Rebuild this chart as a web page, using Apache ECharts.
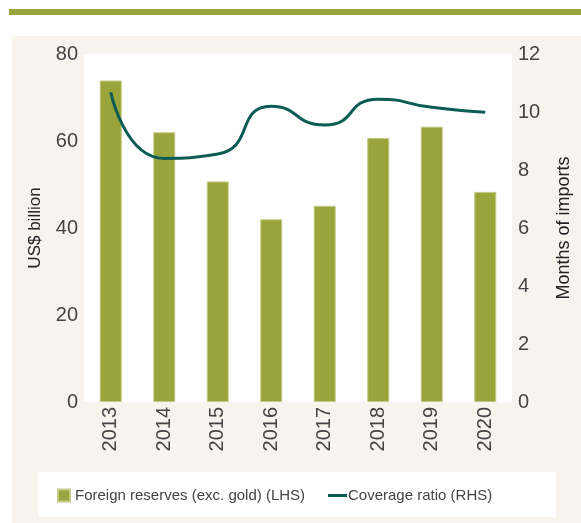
<!DOCTYPE html>
<html>
<head>
<meta charset="utf-8">
<script src="https://cdn.jsdelivr.net/npm/echarts@6/dist/echarts.min.js"></script>
<style>
  html, body { margin: 0; padding: 0; background: #fff; }
  #main { width: 581px; height: 523px; }
</style>
</head>
<body>
<div id="main"></div>
<script>
// data
const years = ['2013', '2014', '2015', '2016', '2017', '2018', '2019', '2020'];
const reserves = [73.9, 62.0, 50.7, 42.0, 45.1, 60.7, 63.3, 48.3];   // US$ billion (LHS)
const coverage = [10.68, 8.4, 8.55, 10.2, 9.55, 10.44, 10.16, 9.99]; // months of imports (RHS)
const leftTicks = [0, 20, 40, 60, 80];
const rightTicks = [0, 2, 4, 6, 8, 10, 12];

const font = '"Liberation Sans Narrow", "Liberation Sans", sans-serif';
const textCol = '#444';
const olive = '#99a43a';
const teal = '#0c5c56';

let myChart = echarts.init(document.getElementById('main'));
let option = {
  backgroundColor: '#fff',
  animation: false,
  graphic: [
    // top olive band
    { type: 'rect', shape: { x: 9, y: 9, width: 572, height: 6 }, style: { fill: olive }, z: -10 },
    // beige panel
    { type: 'rect', shape: { x: 12, y: 36, width: 569, height: 487 }, style: { fill: '#f7f3ed' }, z: -10 },
    // white legend box
    { type: 'rect', shape: { x: 38, y: 472, width: 518, height: 45 }, style: { fill: '#fff' }, z: -9 }
  ],
  grid: {
    left: 84, right: 63, top: 54, bottom: 121,
    show: true, backgroundColor: '#fff', borderWidth: 0
  },
  legend: [
    {
      left: 52, top: 483,
      itemWidth: 12, itemHeight: 12, itemGap: 4,
      textStyle: { fontFamily: font, fontSize: 15, color: textCol },
      data: [{ name: 'Foreign reserves (exc. gold) (LHS)', icon: 'rect' }]
    },
    {
      left: 323, top: 483,
      itemWidth: 19, itemHeight: 3,
      textStyle: { fontFamily: font, fontSize: 15, color: textCol, padding: [0, 0, 0, -4] },
      data: [{ name: 'Coverage ratio (RHS)', icon: 'rect' }]
    }
  ],
  xAxis: {
    type: 'category',
    data: years,
    axisLine: { show: false },
    axisTick: { show: false },
    axisLabel: {
      rotate: 90, margin: 5,
      fontFamily: font, fontSize: 20, color: textCol
    }
  },
  yAxis: [
    {
      type: 'value', min: 0, max: 80, interval: 20,
      name: 'US$ billion', nameLocation: 'middle', nameGap: 40,
      nameTextStyle: { fontFamily: font, fontSize: 17, color: '#222' },
      splitLine: { show: false },
      axisLine: { show: false },
      axisTick: { show: false },
      axisLabel: {
        margin: 6, fontFamily: font, fontSize: 20, color: textCol,
        formatter: v => leftTicks.includes(v) ? String(v) : ''
      }
    },
    {
      type: 'value', min: 0, max: 12, interval: 2,
      name: 'Months of imports', nameLocation: 'middle', nameGap: 43, nameRotate: 90,
      nameTextStyle: { fontFamily: font, fontSize: 18, color: '#222' },
      splitLine: { show: false },
      axisLine: { show: false },
      axisTick: { show: false },
      axisLabel: {
        margin: 6, fontFamily: font, fontSize: 20, color: textCol,
        formatter: v => rightTicks.includes(v) ? String(v) : ''
      }
    }
  ],
  series: [
    {
      name: 'Foreign reserves (exc. gold) (LHS)',
      type: 'bar',
      data: reserves,
      barWidth: 22,
      itemStyle: { color: olive, borderColor: '#c3ca86', borderWidth: 1 }
    },
    {
      name: 'Coverage ratio (RHS)',
      type: 'line',
      yAxisIndex: 1,
      data: coverage,
      smooth: 0.6,
      symbol: 'none',
      lineStyle: { color: teal, width: 3 },
      itemStyle: { color: teal }
    }
  ]
};
myChart.setOption(option);
</script>
</body>
</html>
